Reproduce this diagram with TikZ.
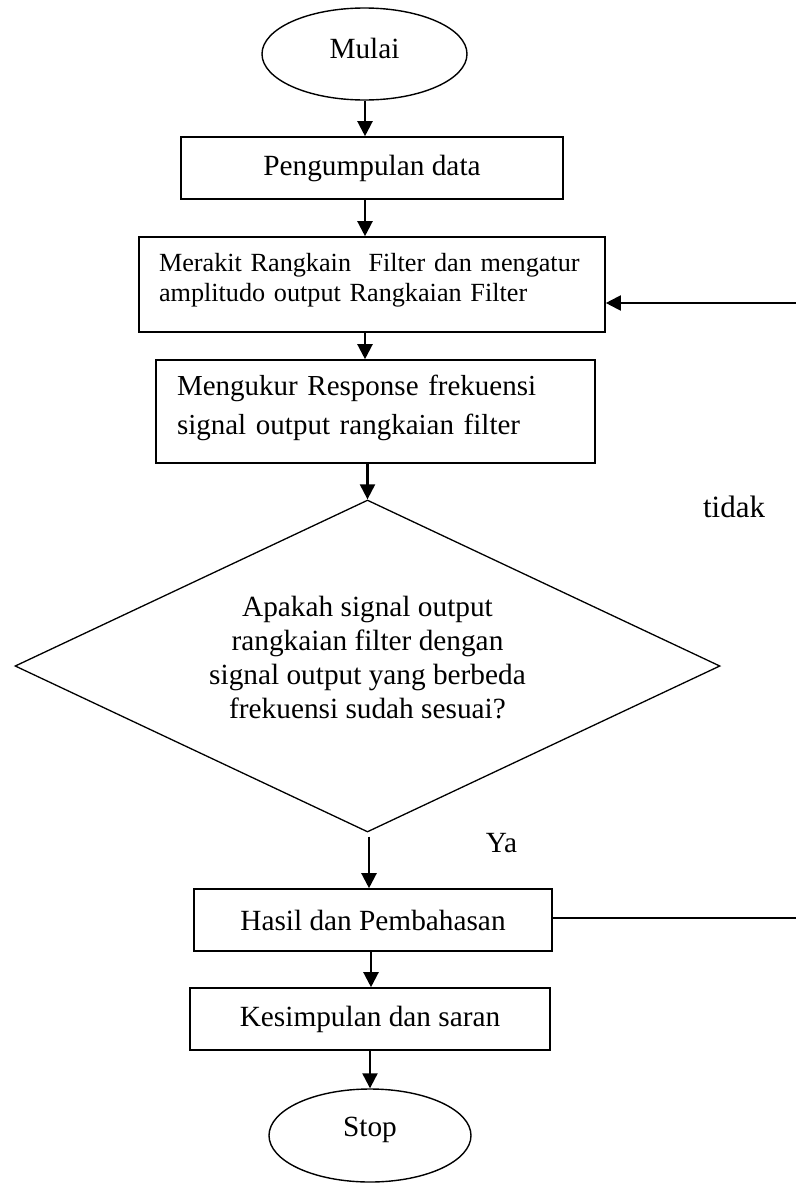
\documentclass[tikz,border=0pt]{standalone}
\usepackage{fontspec}
\setmainfont{Liberation Serif}
\usetikzlibrary{shapes.geometric,arrows.meta,calc}
\begin{document}
\begin{tikzpicture}[x=0.5pt,y=-0.5pt,
  box/.style={draw,line width=0.8pt,rectangle,inner sep=0pt,align=center,font=\fontsize{14.65pt}{17pt}\selectfont},
  term/.style={draw,line width=0.7pt,ellipse,inner sep=0pt,font=\fontsize{14.65pt}{17pt}\selectfont},
  dec/.style={draw,line width=0.65pt,diamond,inner sep=0pt},
  arr/.style={line width=1.1pt,-{Triangle[length=7.5pt,width=7.5pt]}},
  lbl/.style={inner sep=0pt,font=\fontsize{14.65pt}{17pt}\selectfont}]
\useasboundingbox (0,0) rectangle (796,1183);

\node[term,minimum width=102.5pt,minimum height=46pt] (mulai) at (364.5,54) {\raisebox{3pt}[\height][\depth]{Mulai}};
\node[box,minimum width=191pt,minimum height=31pt] (b1) at (372,168) {Pengumpulan data};
\node[box,minimum width=233pt,minimum height=47.5pt,align=left,text width=213pt,inner xsep=10pt,
      font=\fontsize{13.1pt}{15pt}\selectfont] (b2) at (372,284.5)
      {\raisebox{2pt}[\height][\depth]{\mbox{Merakit Rangkain\ \ Filter dan mengatur}}\\\raisebox{2pt}[\height][\depth]{\mbox{amplitudo output Rangkaian Filter}}};
\node[box,minimum width=219.5pt,minimum height=51.5pt,align=left,text width=198.5pt,inner xsep=10.5pt,
      font=\fontsize{14.5pt}{19.5pt}\selectfont] (b3) at (375.5,411.5)
      {\raisebox{2pt}[\height][\depth]{\mbox{Mengukur Response frekuensi}}\\\raisebox{2pt}[\height][\depth]{\mbox{signal output rangkaian filter}}};
\node[dec,minimum width=352.5pt,minimum height=166pt] (d) at (367.5,666) {};
\node[lbl,align=center,font=\fontsize{14.65pt}{16.85pt}\selectfont] (dt) at (367.5,657.5)
      {Apakah signal output\\rangkaian filter dengan\\signal output yang berbeda\\frekuensi sudah sesuai?};
\node[box,minimum width=179pt,minimum height=31pt] (h) at (373,920) {Hasil dan Pembahasan};
\node[box,minimum width=180pt,minimum height=31pt] (k) at (370,1019) {Kesimpulan dan saran};
\node[term,minimum width=101pt,minimum height=46.5pt] (stop) at (370,1135.5) {\raisebox{3pt}[\height][\depth]{Stop}};

\node[lbl,font=\fontsize{15.5pt}{17pt}\selectfont] (tidak) at (734,507) {tidak};
\node[lbl] (ya) at (501.5,843) {Ya};

\coordinate (x1) at (365,0);
\coordinate (x3) at (369,0);
\coordinate (x4) at (371,0);
\draw[arr] (x1 |- mulai.south) -- (x1 |- b1.north);
\draw[arr] (x1 |- b1.south) -- (x1 |- b2.north);
\draw[arr] (x1 |- b2.south) -- (x1 |- b3.north);
\draw[arr] (d.north |- b3.south) -- (d.north);
\draw[arr] ($(x3 |- d.south)+(0,4)$) -- (x3 |- h.north);
\draw[arr] (x4 |- h.south) -- (x4 |- k.north);
\draw[arr] (stop.north |- k.south) -- (stop.north);

\coordinate (r1) at (796,303);
\coordinate (r2) at (796,918);
\draw[arr,line width=1pt] (r1) -- (r1 -| b2.east);
\draw[line width=0.8pt] (h.east |- r2) -- (r2);
\end{tikzpicture}
\end{document}
